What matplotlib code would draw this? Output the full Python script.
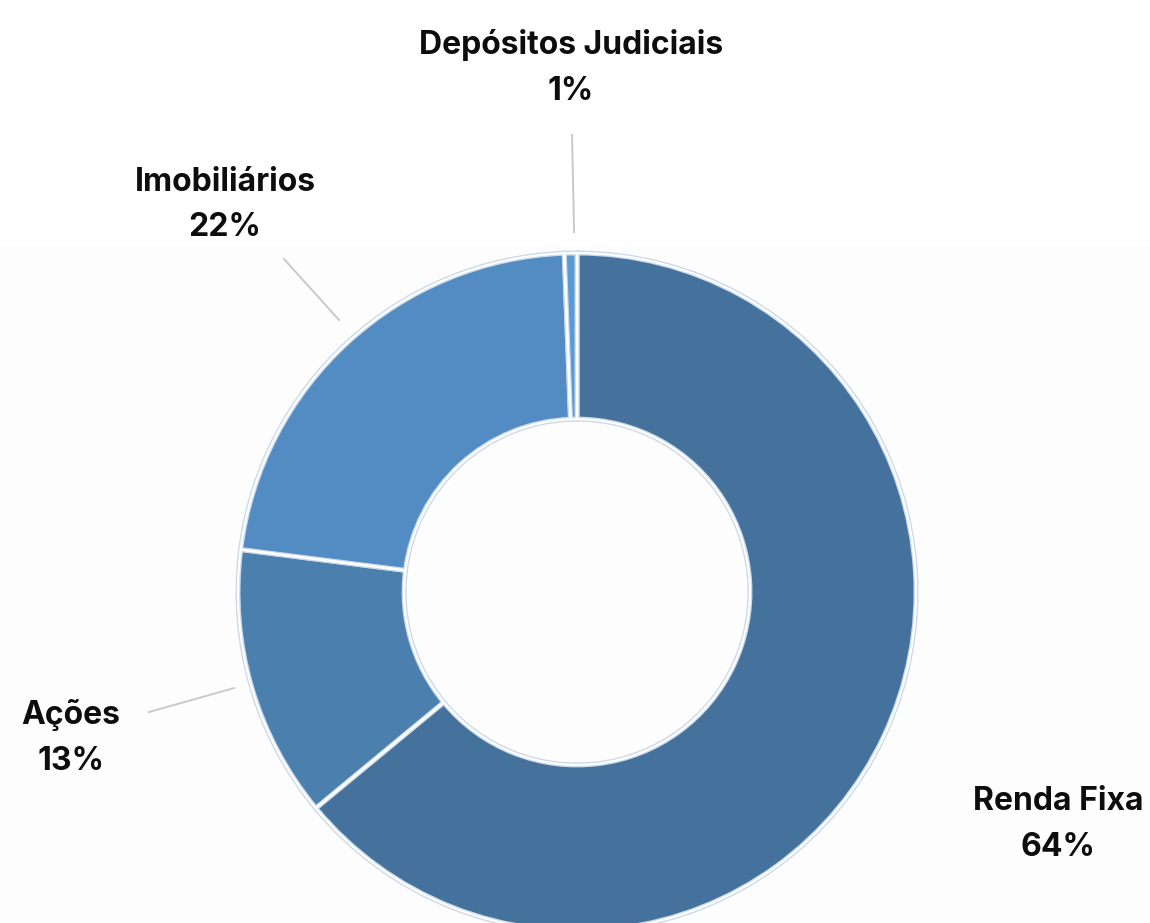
import matplotlib
matplotlib.use("Agg")
import matplotlib.pyplot as plt
from matplotlib.patches import Rectangle

# Portfolio allocation (percent)
categories = ["Renda Fixa", "Ações", "Imobiliários", "Depósitos Judiciais"]
shares = [64.0, 13.0, 22.4, 0.6]
colors = ["#44729c", "#4a7fae", "#528cc2", "#5b9bd5"]

W, H, DPI = 1150, 923, 100
fig = plt.figure(figsize=(W / DPI, H / DPI), dpi=DPI)
fig.patch.set_facecolor("white")
ax = fig.add_axes([0, 0, 1, 1])
ax.set_facecolor("white")

# Plot area background, a faint off-white panel
ax.add_patch(Rectangle((0, 0), 1, 0.7346, transform=ax.transAxes,
                       facecolor="#fdfdfd", edgecolor="none", zorder=0))

# Donut: light-blue outline under a white separator line
ax.pie(shares, colors=colors, startangle=90, counterclock=False,
       radius=1.0, wedgeprops=dict(width=0.49, edgecolor="#cbdaeb", linewidth=3.6))
ax.pie(shares, colors=["none"] * len(shares), startangle=90, counterclock=False,
       radius=1.0, wedgeprops=dict(width=0.49, edgecolor="white", linewidth=1.6,
                                   fill=False))

ax.set_aspect("equal")
ax.set_xlim(-1.702, 1.690)
ax.set_ylim(-0.976, 1.746)
ax.axis("off")

# Label positions (data units) and leader lines
label_pos = [(1.4189, -0.6860), (-1.4926, -0.4308), (-1.0383, 1.1414), (-0.0177, 1.5456)]
leaders = [None,
           [(-1.2625, -0.3540), (-1.0118, -0.2832)],
           [(-0.8643, 0.9823), (-0.7020, 0.8024)],
           [(-0.0147, 1.3481), (-0.0088, 1.0619)]]

font = ["Inter", "DejaVu Sans"]
for name, val, (x, y), ld in zip(categories, shares, label_pos, leaders):
    if ld is not None:
        (x0, y0), (x1, y1) = ld
        ax.plot([x0, x1], [y0, y1], color="#c9c9c9", linewidth=1.4, zorder=1)
    ax.text(x, y, f"{name}\n{val:.0f}%", ha="center", va="center",
            fontsize=23, fontweight="bold", family=font, color="#0d0d0d",
            linespacing=1.62)

fig.savefig("out.png", dpi=DPI, facecolor=fig.get_facecolor())
